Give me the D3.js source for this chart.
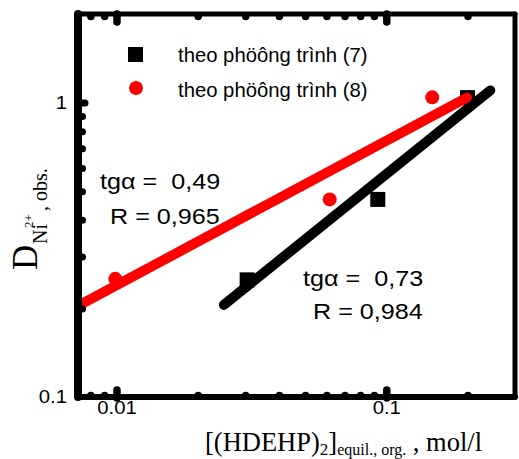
<!DOCTYPE html>
<html><head><meta charset="utf-8">
<script src="https://cdn.jsdelivr.net/npm/d3@7"></script>
<style>
html,body{margin:0;padding:0;background:#fff;}
svg text{white-space:pre;}
</style>
</head><body>
<svg id="chart" width="519" height="459"></svg>
<script>
// ---- data ----
const xDomain = [0.0072, 0.3];
const yDomain = [0.1, 2];
const xTickValues = [0.008, 0.009, 0.01, 0.02, 0.03, 0.04, 0.05, 0.06, 0.07, 0.08, 0.09, 0.1, 0.2];
const xMajorTicks = [0.01, 0.1];
const xTickLabels = ["0.01", "0.1"];
const yTickValues = [0.2, 0.3, 0.4, 0.5, 0.6, 0.7, 0.8, 0.9, 1];
const yMajorTicks = [1];
const yTickLabels = ["0.1", "1"];
const yLabelValues = [0.1, 1];

const series7Name = "theo phöông trình (7)";
const series7X = [0.0305, 0.093, 0.2];
const series7Y = [0.25, 0.469, 1.04];
const series8Name = "theo phöông trình (8)";
const series8X = [0.0099, 0.0617, 0.148];
const series8Y = [0.252, 0.469, 1.042];

const fit7X = [0.025, 0.243];
const fit7Y = [0.2055, 1.10];
const fit8X = [0.0072, 0.199];
const fit8Y = [0.204, 1.04];

const annot8 = ["tgα =  0,49", "R = 0,965"];
const annot7 = ["tgα =  0,73", "R = 0,984"];

// ---- layout ----
const L = 78, R = 515, T = 14, B = 397;
const svg = d3.select("#chart");
const x = d3.scaleLog().domain(xDomain).range([L, R]);
const y = d3.scaleLog().domain(yDomain).range([B, T]);

function stretch(sel, s) {
  sel.each(function () {
    const w = this.getComputedTextLength();
    d3.select(this).attr("textLength", w * s).attr("lengthAdjust", "spacingAndGlyphs");
  });
}

svg.append("defs").append("clipPath").attr("id", "clip")
  .append("rect").attr("x", L).attr("y", T).attr("width", R - L).attr("height", B - T);

// ---- markers ----
const sq = 15;
svg.append("g").selectAll("rect").data(series7X.map((d, i) => [d, series7Y[i]]))
  .join("rect")
  .attr("x", d => x(d[0]) - sq / 2).attr("y", d => y(d[1]) - sq / 2)
  .attr("width", sq).attr("height", sq).attr("fill", "#000");
svg.append("g").selectAll("circle").data(series8X.map((d, i) => [d, series8Y[i]]))
  .join("circle")
  .attr("cx", d => x(d[0])).attr("cy", d => y(d[1])).attr("r", 7).attr("fill", "#ff0000");

// ---- fit lines ----
const line = d3.line().x(d => x(d[0])).y(d => y(d[1]));
const gl = svg.append("g").attr("clip-path", "url(#clip)");
gl.append("path").datum(fit7X.map((d, i) => [d, fit7Y[i]]))
  .attr("d", line).attr("stroke", "#000").attr("stroke-width", 10)
  .attr("stroke-linecap", "round").attr("fill", "none");
gl.append("path").datum(fit8X.map((d, i) => [d, fit8Y[i]]))
  .attr("d", line).attr("stroke", "#ff0000").attr("stroke-width", 10)
  .attr("stroke-linecap", "round").attr("fill", "none");

// ---- frame ----
const frame = svg.append("g").attr("stroke", "#000").attr("stroke-linecap", "round");
frame.append("line").attr("x1", L).attr("x2", R).attr("y1", T).attr("y2", T).attr("stroke-width", 5);
frame.append("line").attr("x1", L).attr("x2", R).attr("y1", B).attr("y2", B).attr("stroke-width", 6);
frame.append("line").attr("x1", R).attr("x2", R).attr("y1", T).attr("y2", B).attr("stroke-width", 5);
frame.append("line").attr("x1", L).attr("x2", L).attr("y1", T).attr("y2", B).attr("stroke-width", 8);

// ---- axes ----
const sans = "Liberation Sans, Arial, sans-serif";
const fmtX = d => { const i = xMajorTicks.indexOf(d); return i >= 0 ? xTickLabels[i] : ""; };
const gx = svg.append("g").attr("transform", `translate(0,${B})`)
  .call(d3.axisBottom(x).tickValues(xTickValues).tickFormat(fmtX).tickSize(0).tickPadding(12));
gx.select(".domain").remove();
gx.selectAll(".tick line")
  .attr("stroke", "#000").attr("stroke-width", 7.5).attr("stroke-linecap", "round")
  .attr("y1", d => xMajorTicks.includes(d) ? 1 : -1.5)
  .attr("y2", d => xMajorTicks.includes(d) ? -7 : -1.5);
gx.selectAll(".tick text").attr("font-family", sans)
  .attr("font-size", 17.5).attr("fill", "#000").attr("dy", "0.71em").attr("y", 5);
stretch(gx.selectAll(".tick text"), 1.16);

const gt = svg.append("g").attr("transform", `translate(0,${T})`)
  .call(d3.axisTop(x).tickValues(xTickValues).tickFormat("").tickSize(0));
gt.select(".domain").remove();
gt.selectAll(".tick line")
  .attr("stroke", "#000").attr("stroke-width", 7.5).attr("stroke-linecap", "round")
  .attr("y1", d => xMajorTicks.includes(d) ? 0 : 2.5)
  .attr("y2", d => xMajorTicks.includes(d) ? 8 : 2.5);

const gy = svg.append("g").attr("transform", `translate(${L},0)`)
  .call(d3.axisLeft(y).tickValues(yTickValues).tickFormat("").tickSize(0));
gy.select(".domain").remove();
gy.selectAll(".tick line")
  .attr("stroke", "#000").attr("stroke-width", 7).attr("stroke-linecap", "round")
  .attr("x1", d => yMajorTicks.includes(d) ? 2 : 4.5)
  .attr("x2", d => yMajorTicks.includes(d) ? 7 : 4.5);

const gyl = svg.append("g");
gyl.selectAll("text").data(yLabelValues).join("text")
  .attr("x", 67).attr("y", d => y(d)).attr("dy", "0.36em")
  .attr("text-anchor", "end")
  .attr("font-family", sans).attr("font-size", 17.5)
  .text((d, i) => yTickLabels[i]);
stretch(gyl.selectAll("text"), 1.16);

// ---- legend ----
const lg = svg.append("g").attr("font-family", sans).attr("font-size", 20.3);
lg.append("rect").attr("x", 128).attr("y", 47).attr("width", sq).attr("height", sq).attr("fill", "#000");
lg.append("text").attr("x", 178).attr("y", 62).text(series7Name);
lg.append("circle").attr("cx", 136).attr("cy", 88).attr("r", 7).attr("fill", "#ff0000");
lg.append("text").attr("x", 178).attr("y", 97).text(series8Name);

// ---- annotations ----
const an = svg.append("g").attr("font-family", sans).attr("font-size", 21.5);
an.append("text").attr("x", 100).attr("y", 189).text(annot8[0]);
an.append("text").attr("x", 110).attr("y", 224).text(annot8[1]);
an.append("text").attr("x", 303).attr("y", 286).text(annot7[0]);
an.append("text").attr("x", 313).attr("y", 319).text(annot7[1]);
stretch(an.selectAll("text"), 1.17);

// ---- axis titles ----
const serif = "Liberation Serif, Times New Roman, serif";
const xt = svg.append("text").attr("x", 205).attr("y", 451).attr("font-family", serif).attr("font-size", 26.5);
xt.append("tspan").text("[(HDEHP)");
xt.append("tspan").attr("font-size", 17).attr("dy", 4).text("2");
xt.append("tspan").attr("dy", -4).text("]");
xt.append("tspan").attr("font-size", 16).attr("dy", 4).text("equil., org.");
xt.append("tspan").attr("dy", -4).text(" , mol/l");

const yt = svg.append("g").attr("transform", "translate(37,270) rotate(-90)").attr("font-family", serif);
yt.append("text").attr("x", 0).attr("y", 0).attr("font-size", 35).text("D");
yt.append("text").attr("x", 26).attr("y", 10).attr("font-size", 20).text("Ni");
yt.append("text").attr("x", 42).attr("y", -4).attr("font-size", 13).text("2+");
yt.append("text").attr("x", 54).attr("y", 10).attr("font-size", 20).text(" , obs.");
</script>
</body></html>
